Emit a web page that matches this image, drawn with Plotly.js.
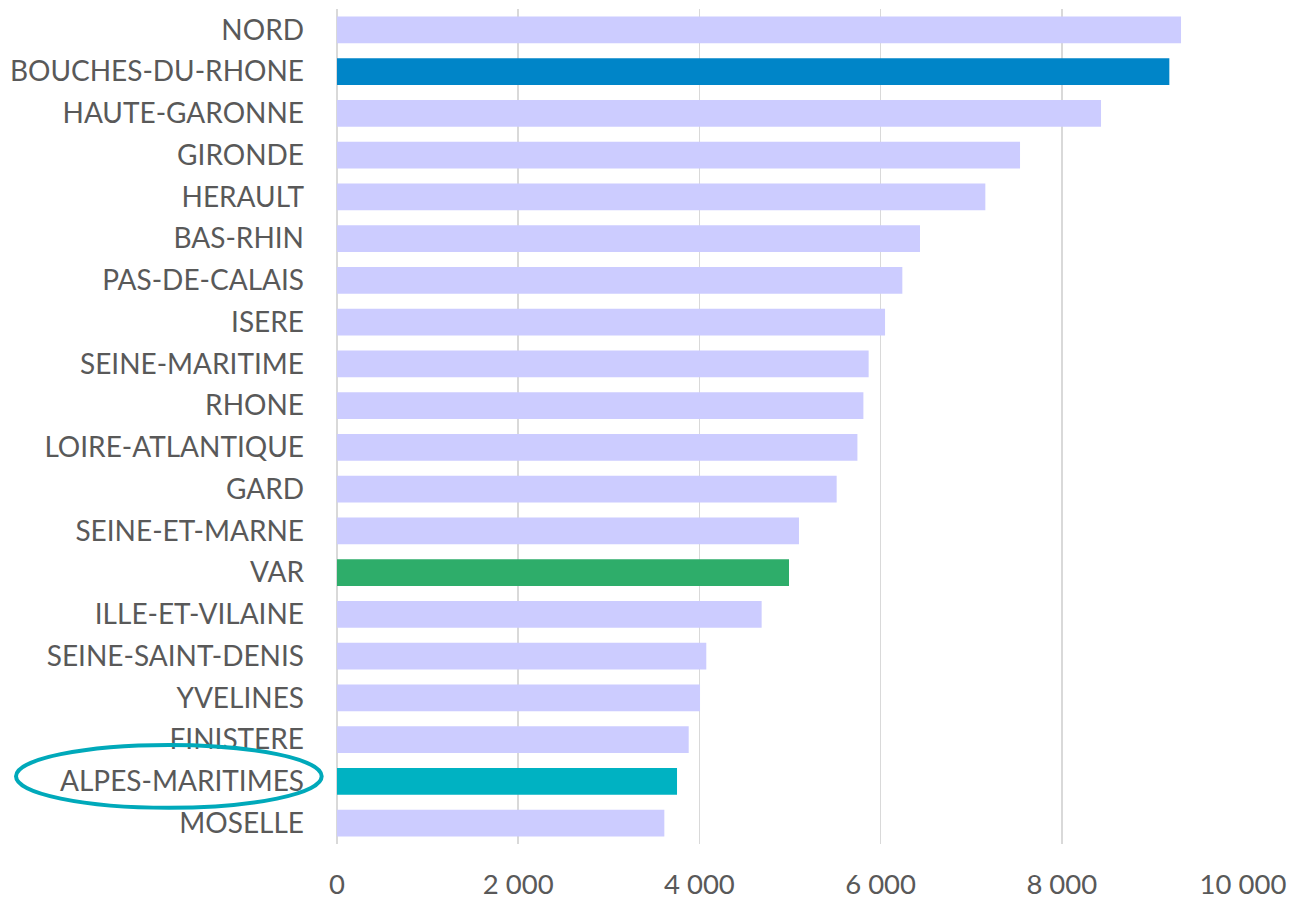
<!DOCTYPE html>
<html>
<head>
<meta charset="utf-8">
<script src="https://cdn.plot.ly/plotly-3.0.1.min.js"></script>
<style>html,body{margin:0;padding:0;background:#fff;}#chart{width:1294px;height:900px;}</style>
</head>
<body>
<div id="chart"></div>
<script>
const departements = ["NORD","BOUCHES-DU-RHONE","HAUTE-GARONNE","GIRONDE","HERAULT","BAS-RHIN","PAS-DE-CALAIS","ISERE","SEINE-MARITIME","RHONE","LOIRE-ATLANTIQUE","GARD","SEINE-ET-MARNE","VAR","ILLE-ET-VILAINE","SEINE-SAINT-DENIS","YVELINES","FINISTERE","ALPES-MARITIMES","MOSELLE"];
const valeurs = [9316,9187,8433,7539,7156,6435,6240,6049,5868,5810,5744,5515,5099,4989,4687,4076,4007,3882,3753,3613];
const couleurs = ["#CCCCFF","#0085C8","#CCCCFF","#CCCCFF","#CCCCFF","#CCCCFF","#CCCCFF","#CCCCFF","#CCCCFF","#CCCCFF","#CCCCFF","#CCCCFF","#CCCCFF","#2EAD6A","#CCCCFF","#CCCCFF","#CCCCFF","#CCCCFF","#00B2C2","#CCCCFF"];
const tickVals = [0,2000,4000,6000,8000,10000];
const tickTexts = ["0","2 000","4 000","6 000","8 000","10 000"];

const trace = {
  type: "bar",
  orientation: "h",
  x: valeurs,
  y: departements,
  marker: {color: couleurs},
  hoverinfo: "x+y"
};

const layout = {
  width: 1294, height: 900,
  margin: {l: 337, r: 51, t: 9, b: 56},
  paper_bgcolor: "#ffffff",
  plot_bgcolor: "#ffffff",
  font: {family: "Lato, 'Liberation Sans', sans-serif", size: 28, color: "#595959"},
  showlegend: false,
  bargap: 0.354,
  xaxis: {
    range: [0, 10000],
    tickvals: tickVals,
    ticktext: tickTexts,
    showgrid: true,
    gridcolor: "#d9d9d9",
    gridwidth: 1.5,
    zeroline: true,
    zerolinecolor: "#d9d9d9",
    zerolinewidth: 1.5,
    showline: false,
    ticks: "",
    ticklabelstandoff: 21,
    tickfont: {size: 27.5, color: "#595959"},
    fixedrange: true
  },
  yaxis: {
    type: "category",
    autorange: "reversed",
    showgrid: false,
    zeroline: false,
    showline: false,
    ticks: "",
    ticklabelstandoff: 32,
    tickfont: {size: 28, color: "#595959"},
    fixedrange: true
  },
  shapes: [{
    type: "circle",
    xref: "paper", yref: "paper",
    x0: -0.3543, x1: -0.0169,
    y0: 0.0433, y1: 0.1187,
    line: {color: "#00A9BA", width: 4},
    fillcolor: "rgba(0,0,0,0)"
  }]
};

Plotly.newPlot("chart", [trace], layout, {displayModeBar: false, staticPlot: true});
</script>
</body>
</html>
